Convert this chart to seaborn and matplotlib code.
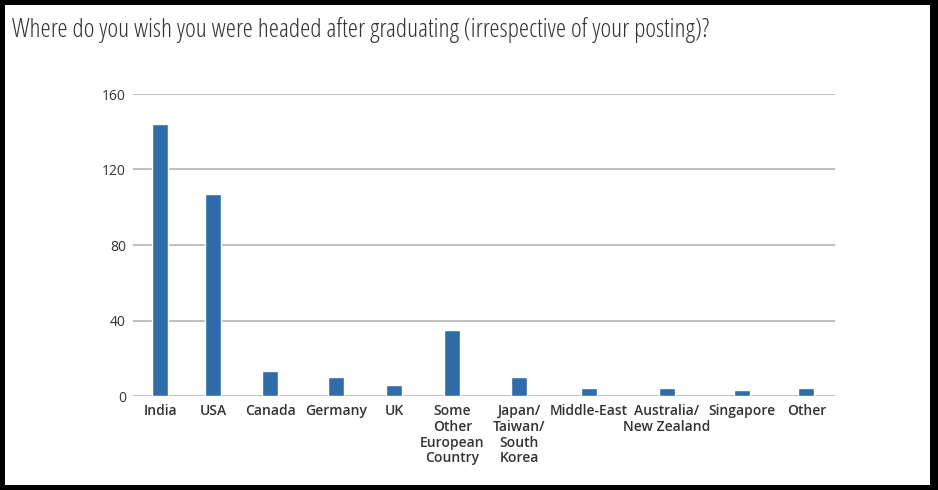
import matplotlib
matplotlib.use("Agg")
import matplotlib.pyplot as plt
import seaborn as sns
import pandas as pd
import numpy as np
from matplotlib.patches import Rectangle

categories = ["India", "USA", "Canada", "Germany", "UK",
              "Some\nOther\nEuropean\nCountry", "Japan/\nTaiwan/\nSouth\nKorea",
              "Middle-East", "Australia/\nNew Zealand", "Singapore", "Other"]
values = [144, 107, 13, 10, 6, 35, 10, 4, 4, 3, 4]
yticks = [0, 40, 80, 120, 160]
title = "Where do you wish you were headed after graduating (irrespective of your posting)?"

sns.set_theme(style="white")
plt.rcParams['font.family'] = ['Open Sans', 'DejaVu Sans']

LABEL_FS = 10
LABEL_WEIGHT = "semibold"

fig = plt.figure(figsize=(9.38, 4.9), dpi=100)
fig.patch.set_facecolor("black")
fig.patches.append(Rectangle((5/938, 5/490), (930-5)/938, (485-5)/490,
                             transform=fig.transFigure, facecolor="white",
                             edgecolor="none", zorder=-10))

ax = fig.add_axes([133/938, 1-396/490, (835-133)/938, (396-94)/490])
ax.set_facecolor("none")

# category slot widths grow with label width (layout computed from the text)
renderer = fig.canvas.get_renderer()
widths = []
for c in categories:
    t = fig.text(0, 0, c, fontsize=LABEL_FS, fontweight=LABEL_WEIGHT)
    widths.append(t.get_window_extent(renderer).width)
    t.remove()
widths = np.array(widths)
slots = widths / 2 + 40
edges = np.concatenate([[0], np.cumsum(slots)])
centers = (edges[:-1] + edges[1:]) / 2

df = pd.DataFrame({"dest": categories, "count": values, "pos": centers})
min_gap = np.min(np.diff(centers))
sns.barplot(data=df, x="pos", y="count", native_scale=True, color="#2F6DAA",
            width=16 / min_gap * (edges[-1] / 702), saturation=1, ax=ax, zorder=3)
ax.set_xlim(0, edges[-1])
ax.set_xticks(centers)
ax.set_xticklabels(categories)
ax.set_ylim(0, 160)
ax.set_yticks(yticks)
ax.yaxis.grid(True, color="#BFBFBF", linewidth=1.4, zorder=0)
ax.xaxis.grid(False)
for s in ax.spines.values():
    s.set_visible(False)
ax.set_xlabel("")
ax.set_ylabel("")
ax.tick_params(axis="y", length=0, pad=5, labelsize=10, labelcolor="#333333")
ax.tick_params(axis="x", length=0, pad=6, labelsize=LABEL_FS, labelcolor="#333333")
for lbl in ax.get_xticklabels():
    lbl.set_linespacing(1.15)
    lbl.set_va("top")
    lbl.set_fontweight(LABEL_WEIGHT)

fig.text(12/938, 1-30/490, title, fontsize=18.5, color="#333333",
         ha="left", va="center", family=["Open Sans", "DejaVu Sans"],
         fontstretch="condensed")

fig.savefig("out.png", dpi=100, facecolor=fig.get_facecolor())
